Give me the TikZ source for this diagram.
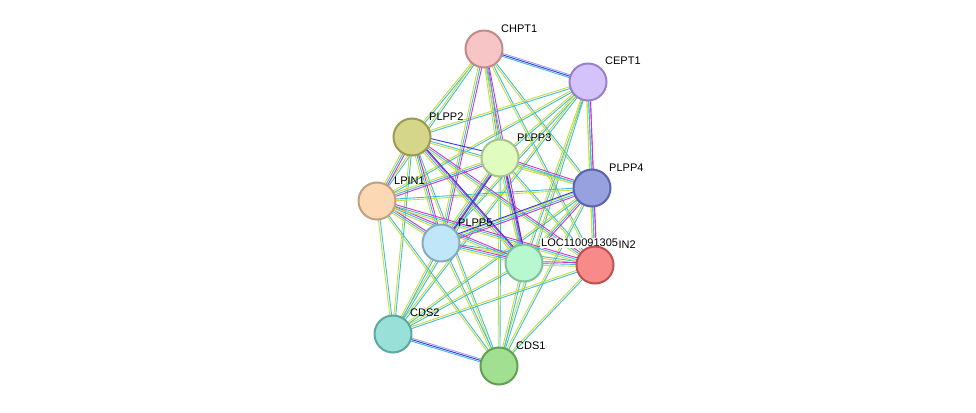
\documentclass[tikz,border=0pt]{standalone}
\usepackage{fontspec}
\setmainfont{Liberation Sans}
\usetikzlibrary{calc}
\definecolor{ty}{HTML}{C8DC3C}
\definecolor{tc}{HTML}{3CBED8}
\definecolor{tb}{HTML}{3434E0}
\definecolor{tm}{HTML}{D030D0}
\definecolor{tl}{HTML}{A0A0F0}
\newcommand\edg[3]{\foreach \c/\o in {#3}{\draw[\c,line width=0.9pt] ($(#1)!\o pt!90:(#2)$) -- ($(#2)!\o pt!-90:(#1)$);}}
\tikzset{pn/.style={circle,minimum size=37pt,inner sep=0pt,line width=2pt},
 lb/.style={font=\fontsize{11}{12}\selectfont,anchor=south west,inner sep=1pt}}
\begin{document}
\begin{tikzpicture}[x=1pt,y=-1pt]
\useasboundingbox (0,0) rectangle (976,412);
\coordinate (CHPT1) at (484,49);
\coordinate (CEPT1) at (588,82);
\coordinate (PLPP2) at (412,137);
\coordinate (PLPP3) at (500,158);
\coordinate (PLPP4) at (592,188);
\coordinate (LPIN1) at (377,201);
\coordinate (PLPP5) at (441,243);
\coordinate (LOC) at (524,263);
\coordinate (LPIN2) at (595,265);
\coordinate (CDS2) at (393,334);
\coordinate (CDS1) at (499,366);
% yellow/cyan
\foreach \a/\b in {CHPT1/PLPP2,CHPT1/PLPP4,CHPT1/LPIN2,CHPT1/LPIN1,CEPT1/PLPP2,CEPT1/PLPP3,CEPT1/PLPP5,CEPT1/LOC,CEPT1/LPIN1,CEPT1/CDS2,CEPT1/CDS1,PLPP2/CDS2,PLPP2/CDS1,PLPP3/CDS2,PLPP3/CDS1,PLPP4/CDS2,PLPP4/CDS1,LPIN1/CDS2,LPIN1/CDS1,PLPP5/CDS1,LOC/CDS2,LOC/CDS1,LPIN2/CDS2,LPIN2/CDS1,PLPP5/CDS2,PLPP2/PLPP4,PLPP3/LPIN2,LPIN1/PLPP4,PLPP5/LPIN2}
  {\edg{\a}{\b}{ty/-0.9,tc/0.9}}
% yellow/cyan/magenta
\foreach \a/\b in {CHPT1/PLPP3,CHPT1/PLPP5,CHPT1/LOC,CEPT1/PLPP4,CEPT1/LPIN2,PLPP2/LPIN1,PLPP2/PLPP5,PLPP2/LOC,PLPP2/LPIN2,PLPP3/PLPP5,PLPP3/LOC,PLPP3/LPIN1,PLPP3/PLPP4,PLPP4/LPIN2,PLPP4/LOC,LPIN1/PLPP5,LPIN1/LOC,LPIN1/LPIN2,PLPP5/LOC,LOC/LPIN2,PLPP4/PLPP5}
  {\edg{\a}{\b}{ty/-1.8,tc/0,tm/1.8}}
% with blue
\foreach \a/\b in {PLPP2/PLPP3,PLPP3/PLPP5,PLPP5/PLPP4,PLPP2/LOC,PLPP3/LOC}
  {\edg{\a}{\b}{tb/2.8}}
\edg{CHPT1}{CEPT1}{tc/-1.5,tb/0,tl/1.5}
\edg{CDS2}{CDS1}{tc/-1.5,tb/0,tl/1.5}
\node[pn,fill={rgb,255:red,247;green,197;blue,197},draw={rgb,255:red,192;green,138;blue,138}] (n1) at (CHPT1) {};
\node[pn,fill={rgb,255:red,212;green,194;blue,250},draw={rgb,255:red,154;green,127;blue,204}] (n2) at (CEPT1) {};
\node[pn,fill={rgb,255:red,214;green,214;blue,138},draw={rgb,255:red,154;green,154;blue,80}] (n3) at (PLPP2) {};
\node[pn,fill={rgb,255:red,224;green,252;blue,191},draw={rgb,255:red,167;green,196;blue,138}] (n4) at (PLPP3) {};
\node[pn,fill={rgb,255:red,151;green,161;blue,224},draw={rgb,255:red,90;green,100;blue,170}] (n5) at (PLPP4) {};
\node[pn,fill={rgb,255:red,252;green,216;blue,181},draw={rgb,255:red,192;green,160;blue,128}] (n6) at (LPIN1) {};
\node[pn,fill={rgb,255:red,192;green,230;blue,250},draw={rgb,255:red,136;green,170;blue,192}] (n7) at (PLPP5) {};
\node[pn,fill={rgb,255:red,184;green,248;blue,208},draw={rgb,255:red,128;green,192;blue,154}] (n8) at (LOC) {};
\node[pn,fill={rgb,255:red,152;green,224;blue,216},draw={rgb,255:red,90;green,168;blue,160}] (n10) at (CDS2) {};
\node[pn,fill={rgb,255:red,160;green,224;blue,144},draw={rgb,255:red,96;green,160;blue,80}] (n11) at (CDS1) {};
\node[lb] at (500,34) {CHPT1};
\node[lb] at (604,66) {CEPT1};
\node[lb] at (428,122) {PLPP2};
\node[lb] at (516,143) {PLPP3};
\node[lb] at (608,173) {PLPP4};
\node[lb] at (393,186) {LPIN1};
\node[lb] at (457,228) {PLPP5};
\node[lb] at (409,318) {CDS2};
\node[lb] at (515,351) {CDS1};
\node[lb] at (604,250) {LPIN2};
\node[lb,fill=white] at (540,248) {LOC110091305};
\node[pn,fill={rgb,255:red,248;green,138;blue,138},draw={rgb,255:red,192;green,80;blue,80}] (n9) at (LPIN2) {};
\end{tikzpicture}
\end{document}
